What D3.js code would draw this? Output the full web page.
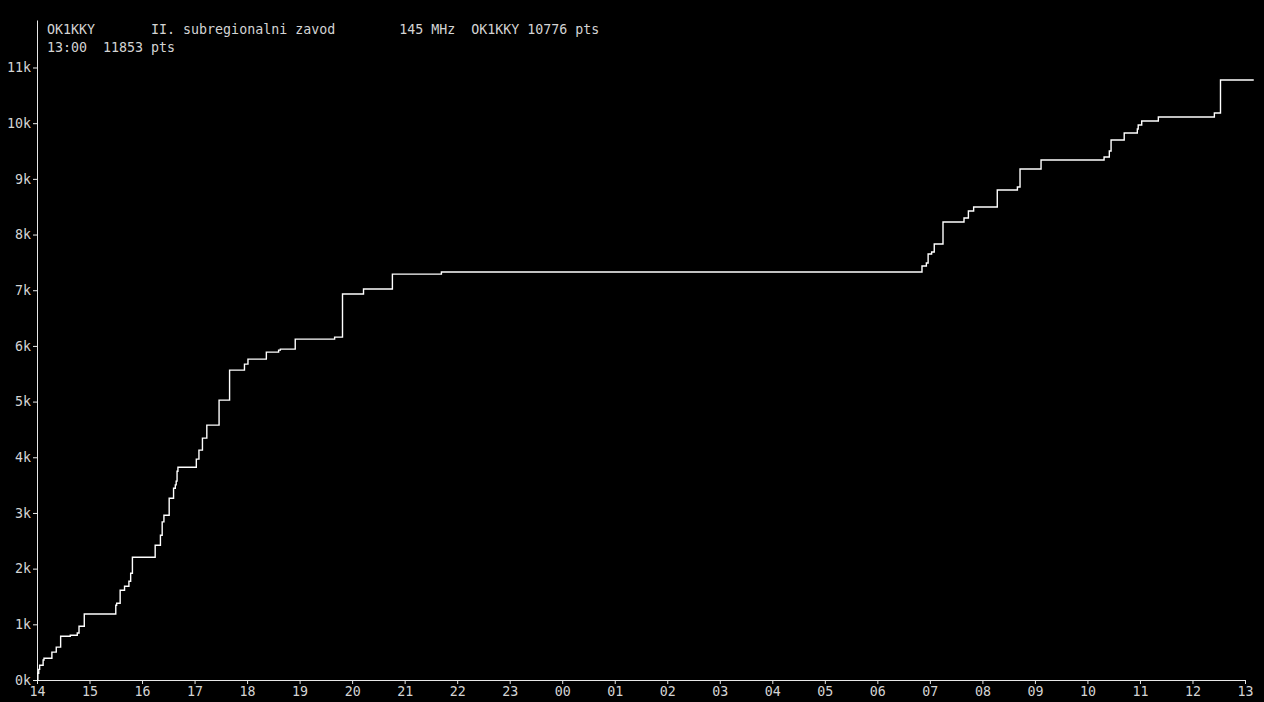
<!DOCTYPE html>
<html>
<head>
<meta charset="utf-8">
<script src="https://cdn.jsdelivr.net/npm/d3@7"></script>
<style>
  html, body { margin: 0; padding: 0; background: #000; }
  svg { display: block; }
  text { font-family: "DejaVu Sans Mono", "Liberation Mono", monospace; }
</style>
</head>
<body>
<svg id="chart" width="1264" height="702"></svg>
<script>
// ---- data ----
const titleLine1 = "OK1KKY       II. subregionalni zavod        145 MHz  OK1KKY 10776 pts";
const titleLine2 = "13:00  11853 pts";
const maxScore = 11853;
const times = ["14:00","14:01","14:02","14:03","14:07","14:08","14:17","14:22","14:27","14:38",
  "14:46","14:48","14:54","15:30","15:31","15:35","15:40","15:45","15:47","15:49",
  "16:15","16:21","16:23","16:25","16:31","16:36","16:38","16:39","16:40","16:41",
  "17:02","17:05","17:09","17:14","17:28","17:40","17:57","18:01","18:22","18:36",
  "18:38","18:55","19:40","19:49","20:13","20:46","21:42","06:51","06:56","06:58",
  "07:02","07:05","07:15","07:39","07:44","07:50","08:17","08:40","08:43","09:07",
  "10:19","10:25","10:27","10:42","10:57","10:58","11:02","11:21","12:25","12:32","13:10"];
const scores = [0,120,190,265,360,390,500,590,785,805,
  845,965,1186,1342,1378,1612,1684,1774,1917,2205,
  2421,2600,2839,2960,3265,3445,3504,3571,3750,3822,
  3966,4128,4343,4577,5026,5565,5673,5763,5889,5925,
  5943,6122,6158,6931,7021,7290,7326,7434,7488,7650,
  7686,7829,8225,8297,8423,8495,8800,8854,9177,9339,
  9393,9501,9698,9824,9896,9968,10040,10112,10184,10776,10776];
const yTicks = [0,1000,2000,3000,4000,5000,6000,7000,8000,9000,10000,11000];
const startTime = "2024-06-01 14:00";
const endTime = "2024-06-02 13:00";

// ---- build ----
(function () {
const parseFull = d3.timeParse("%Y-%m-%d %H:%M");
const t0 = parseFull(startTime);
function toDate(hm) {
  const [h, m] = hm.split(":").map(Number);
  const d = new Date(t0);
  d.setHours(h, m, 0, 0);
  if (h < 14) d.setDate(d.getDate() + 1);
  return d;
}
const data = times.map((t, i) => ({ t: toDate(t), v: scores[i] }));

const svg = d3.select("#chart");
const mLeft = 37, mRight = 1245, mTop = 20, mBottom = 680;

const x = d3.scaleTime().domain([t0, parseFull(endTime)]).range([mLeft, mRight]);
const y = d3.scaleLinear().domain([0, maxScore]).range([mBottom, mTop]);

const textColor = "#d4d4d4";
const axisColor = "#e8e8e8";

const yAxis = svg.append("g")
  .attr("transform", `translate(${mLeft},0)`)
  .call(d3.axisLeft(y).tickValues(yTicks).tickFormat(d => (d / 1000) + "k")
    .tickSize(4).tickSizeOuter(0).tickPadding(2));
const xAxis = svg.append("g")
  .attr("transform", `translate(0,${mBottom})`)
  .call(d3.axisBottom(x).ticks(d3.timeHour.every(1)).tickFormat(d3.timeFormat("%H"))
    .tickSize(4).tickSizeOuter(0).tickPadding(3));

[yAxis, xAxis].forEach(g => {
  g.selectAll("path.domain").attr("stroke", axisColor).attr("stroke-width", 1);
  g.selectAll(".tick line").attr("stroke", axisColor);
  g.selectAll(".tick text").attr("fill", textColor)
    .style("font-family", '"DejaVu Sans Mono", monospace').style("font-size", "13.3px");
});

const line = d3.line().x(d => x(d.t)).y(d => y(d.v)).curve(d3.curveStepAfter);
svg.append("path").datum(data)
  .attr("fill", "none").attr("stroke", "#ffffff").attr("stroke-width", 1.4)
  .attr("d", line);

const tg = svg.append("g").attr("fill", textColor)
  .style("font-size", "13.3px").style("white-space", "pre");
tg.append("text").attr("x", 47).attr("y", 34).attr("xml:space", "preserve").text(titleLine1);
tg.append("text").attr("x", 47).attr("y", 52).attr("xml:space", "preserve").text(titleLine2);
})();
</script>
</body>
</html>
